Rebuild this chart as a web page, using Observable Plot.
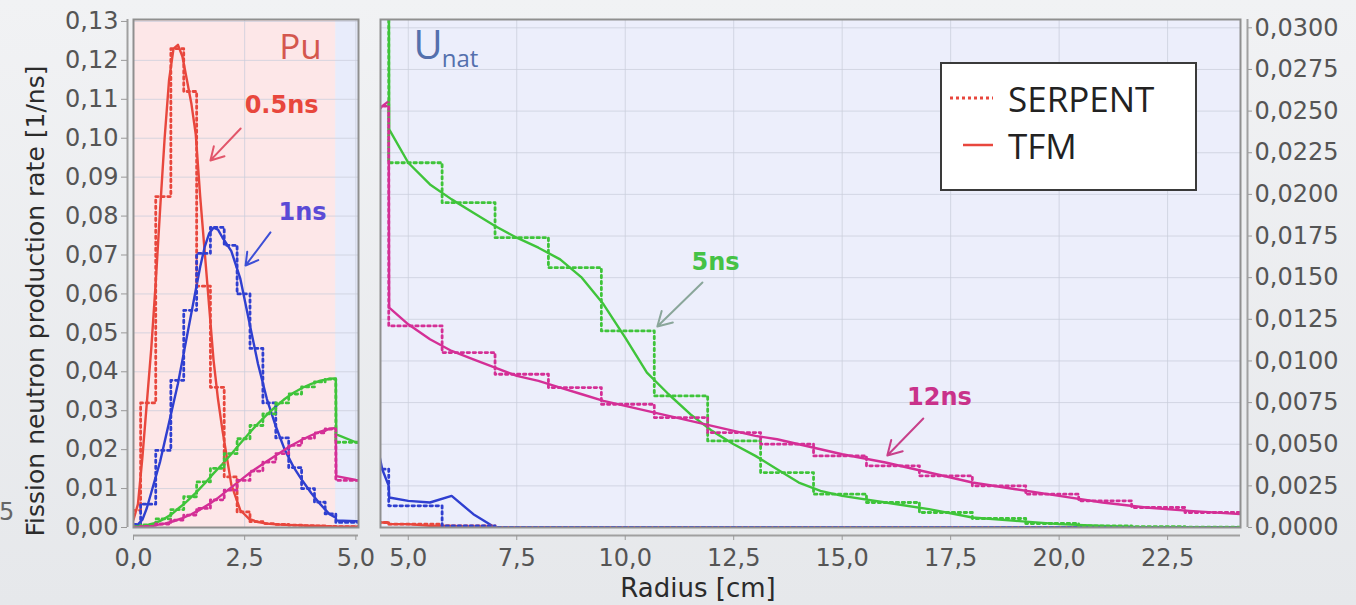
<!DOCTYPE html>
<html><head><meta charset="utf-8">
<script src="https://cdn.jsdelivr.net/npm/d3@7"></script>
<script src="https://cdn.jsdelivr.net/npm/@observablehq/plot@0.6"></script>
<style>
body{margin:0;background:linear-gradient(#f1f2f4,#e6e8eb);}
#chart{position:relative;width:1356px;height:605px;overflow:hidden;}
#left,#right{position:absolute;top:0;}
#left{left:0}
#right{left:370px}
#overlay{position:absolute;left:0;top:0;pointer-events:none}
</style></head>
<body>
<div id="chart"><div id="left"></div><div id="right"></div>
<svg id="overlay" width="1356" height="605"></svg>
</div>
<script>
// ---------- data ----------
const seriesNames = ["0.5ns", "1ns", "5ns", "12ns"];
const seriesColors = ["#e8473d", "#2f3fd0", "#3fc43a", "#d42f96"];

const tfmRadius = [0, 0.1, 0.2, 0.3, 0.4, 0.5, 0.6, 0.7, 0.8, 0.9, 1.0, 1.1, 1.2, 1.3, 1.4, 1.5, 1.6, 1.7, 1.8, 1.9, 2.0,
  2.2, 2.4, 2.6, 2.8, 3.0, 3.2, 3.4, 3.6, 3.8, 4.0, 4.2, 4.4, 4.55, 4.56,
  5.0, 5.5, 6.0, 6.5, 7.0, 7.5, 8.0, 8.5, 9.0, 9.5, 10.0, 10.5, 11.0, 11.5, 12.0, 12.5, 13.0, 13.5, 14.0, 14.5, 15.0,
  16.0, 17.0, 18.0, 19.0, 20.0, 21.0, 22.0, 23.0, 24.2];
const tfm05ns = [0.002, 0.006, 0.018, 0.032, 0.046, 0.063, 0.082, 0.100, 0.115, 0.123, 0.124, 0.121, 0.115, 0.109, 0.101, 0.085, 0.071, 0.057, 0.043, 0.033, 0.025,
  0.011, 0.0045, 0.0022, 0.0014, 0.001, 0.0008, 0.0007, 0.0006, 0.0005, 0.0004, 0.0004, 0.0003, 0.0003, 0.0002,
  0.0002, 0.0001, 0.0001, 0, 0, 0, 0, 0, 0, 0, 0, 0, 0, 0, 0, 0, 0, 0, 0, 0, 0,
  0, 0, 0, 0, 0, 0, 0, 0, 0];
const tfm1ns = [0.0003, 0.0008, 0.002, 0.005, 0.009, 0.013, 0.017, 0.022, 0.027, 0.032, 0.037, 0.043, 0.049, 0.055, 0.061, 0.067, 0.072, 0.0755, 0.077, 0.0765, 0.0745,
  0.071, 0.064, 0.053, 0.042, 0.033, 0.026, 0.020, 0.0155, 0.012, 0.0088, 0.006, 0.0035, 0.0025, 0.0018,
  0.0016, 0.0015, 0.0019, 0.0008, 0, 0, 0, 0, 0, 0, 0, 0, 0, 0, 0, 0, 0, 0, 0, 0, 0,
  0, 0, 0, 0, 0, 0, 0, 0, 0];
const tfm5ns = [0.0002, 0.0003, 0.0004, 0.0006, 0.0009, 0.0012, 0.0017, 0.0023, 0.003, 0.0038, 0.0048, 0.0057, 0.0067, 0.0078, 0.0089, 0.0101, 0.0113, 0.0126, 0.0139, 0.0151, 0.0163,
  0.0189, 0.0216, 0.0242, 0.0267, 0.029, 0.0311, 0.033, 0.0346, 0.0359, 0.0369, 0.0377, 0.0382, 0.0383, 0.0239,
  0.0219, 0.0206, 0.0197, 0.0189, 0.0181, 0.0174, 0.0168, 0.0161, 0.0150, 0.0134, 0.0114, 0.0093, 0.0080, 0.0068, 0.0058, 0.0050, 0.0043, 0.0035, 0.0027, 0.0022, 0.0019,
  0.0015, 0.0011, 0.0006, 0.0004, 0.0002, 0.0001, 0, 0, 0];
const tfm12ns = [0.0001, 0.0001, 0.0002, 0.0003, 0.0004, 0.0006, 0.0008, 0.001, 0.0013, 0.0016, 0.002, 0.0024, 0.0029, 0.0034, 0.004, 0.0046, 0.0053, 0.006, 0.0068, 0.0076, 0.0085,
  0.0103, 0.0121, 0.0139, 0.0155, 0.0170, 0.0185, 0.0200, 0.0214, 0.0226, 0.0237, 0.0246, 0.0253, 0.0256, 0.0132,
  0.0122, 0.0113, 0.0106, 0.0101, 0.0096, 0.0091, 0.0088, 0.0084, 0.0080, 0.0076, 0.0073, 0.0070, 0.0067, 0.0064, 0.0061, 0.0058, 0.0055, 0.0053, 0.0050, 0.0047, 0.0044,
  0.0039, 0.0033, 0.0027, 0.0023, 0.0019, 0.0015, 0.0012, 0.0010, 0.0008];

const serpentEdges = [0, 0.16, 0.5, 0.84, 1.13, 1.42, 1.73, 2.04, 2.33, 2.62, 2.91, 3.2, 3.49, 3.78, 4.07, 4.31, 4.55,
  5.78, 7.0, 8.23, 9.45, 10.67, 11.9, 13.12, 14.34, 15.56, 16.78, 18.0, 19.23, 20.45, 21.67, 22.9, 24.2];
const serpent05ns = [0.0044, 0.032, 0.085, 0.123, 0.112, 0.062, 0.036, 0.013, 0.004, 0.0015, 0.001, 0.0008, 0.0006, 0.0005, 0.0004, 0.0003,
  0.0002, 0.0001, 0, 0, 0, 0, 0, 0, 0, 0, 0, 0, 0, 0, 0, 0];
const serpent1ns = [0.0008, 0.006, 0.0198, 0.0378, 0.0558, 0.0704, 0.0771, 0.0725, 0.060, 0.046, 0.032, 0.023, 0.0154, 0.010, 0.0065, 0.0035,
  0.0013, 0.0001, 0, 0, 0, 0, 0, 0, 0, 0, 0, 0, 0, 0, 0, 0];
const serpent5ns = [0.0003, 0.0007, 0.0022, 0.0046, 0.0079, 0.0117, 0.0152, 0.019, 0.0228, 0.0262, 0.0292, 0.032, 0.0343, 0.0361, 0.0374, 0.0381,
  0.0219, 0.0195, 0.0174, 0.0156, 0.0118, 0.0079, 0.0052, 0.0033, 0.0020, 0.0015, 0.0009, 0.00054, 0.00024, 0.0001, 0.00005, 0.00002];
const serpent12ns = [0.0001, 0.0003, 0.0009, 0.0019, 0.0032, 0.0049, 0.0071, 0.0096, 0.0121, 0.0145, 0.0168, 0.0190, 0.0211, 0.0229, 0.0243, 0.0253,
  0.0121, 0.0105, 0.0092, 0.0084, 0.0074, 0.0066, 0.0057, 0.0050, 0.0043, 0.0037, 0.0031, 0.0025, 0.0020, 0.0016, 0.0012, 0.0009];

const regionNames = ["Pu", "Unat"];
const regionStart = [0, 4.55];
const regionEnd = [4.55, 24.2];

const leftXTicks = [0, 2.5, 5];
const leftYTicks = [0, 0.01, 0.02, 0.03, 0.04, 0.05, 0.06, 0.07, 0.08, 0.09, 0.10, 0.11, 0.12, 0.13];
const rightXTicks = [5, 7.5, 10, 12.5, 15, 17.5, 20, 22.5];
const rightYTicks = [0, 0.0025, 0.005, 0.0075, 0.01, 0.0125, 0.015, 0.0175, 0.02, 0.0225, 0.025, 0.0275, 0.03];

const noteLabels = ["0.5ns", "1ns", "5ns", "12ns"];
const notePanel = ["left", "left", "right", "right"];
const noteX = [3.33, 3.80, 12.08, 17.24];
const noteY = [0.1084, 0.0809, 0.0159, 0.0078];
const arrowFromX = [2.41, 3.08, 11.78, 16.87];
const arrowFromY = [0.1025, 0.0758, 0.01471, 0.00654];
const arrowToX = [1.73, 2.52, 10.74, 16.04];
const arrowToY = [0.0943, 0.0673, 0.01207, 0.00432];
const noteColors = ["#e8473d", "#5b4bd6", "#45c245", "#c9328a"];
const arrowColors = ["#e2566a", "#3d4fd6", "#8aa69a", "#c8408a"];

// ---------- tables ----------
const tfmValues = [tfm05ns, tfm1ns, tfm5ns, tfm12ns];
const serpentValues = [serpent05ns, serpent1ns, serpent5ns, serpent12ns];
const tfmRows = seriesNames.flatMap((s, k) => tfmRadius.map((r, i) => ({series: s, r, v: tfmValues[k][i]})));
const serpentRows = seriesNames.flatMap((s, k) => serpentEdges.map((r, i) => ({series: s, r, v: serpentValues[k][Math.min(i, serpentValues[k].length - 1)]})));
const regions = regionNames.map((n, i) => ({n, r0: regionStart[i], r1: regionEnd[i]}));
const notes = noteLabels.map((label, i) => ({label, panel: notePanel[i], x: noteX[i], y: noteY[i],
  x1: arrowFromX[i], y1: arrowFromY[i], x2: arrowToX[i], y2: arrowToY[i], color: noteColors[i], acolor: arrowColors[i]}));

const comma = spec => d => d3.format(spec)(d).replace(".", ",");
const style = {fontFamily: "DejaVu Sans", fontSize: "24px", color: "#555", background: "transparent", overflow: "visible"};
const gridStyle = {stroke: "#c9cddb", strokeOpacity: 0.75, strokeWidth: 1};

function dataMarks() {
  return [
    Plot.line(tfmRows, {x: "r", y: "v", z: "series", stroke: "series", strokeWidth: 2.4, clip: true}),
    Plot.line(serpentRows, {x: "r", y: "v", z: "series", stroke: "series", curve: "step-after", strokeWidth: 2.8, strokeDasharray: "2.5 3.5", clip: true})
  ];
}
function noteMarks(panel) {
  return notes.filter(d => d.panel === panel).flatMap(d => [
    Plot.arrow([d], {x1: "x1", y1: "y1", x2: "x2", y2: "y2", stroke: d.acolor, strokeWidth: 2, headLength: 12}),
    Plot.text([d], {x: "x", y: "y", text: "label", fill: d.color, fontWeight: "bold", fontSize: 24, fontFamily: "DejaVu Sans"})
  ]);
}

// ---------- left panel (Pu) ----------
const leftYMax = 0.1305;
const left = Plot.plot({
  width: 380, height: 605, marginLeft: 133, marginRight: 22, marginTop: 19, marginBottom: 78,
  style,
  x: {domain: [0, 5.06]},
  y: {domain: [0, leftYMax]},
  color: {domain: seriesNames, range: seriesColors},
  marks: [
    Plot.rect(regions.filter(d => d.n === "Pu"), {x1: "r0", x2: "r1", y1: 0, y2: leftYMax, fill: "#fde7e8", clip: true}),
    Plot.rect(regions.filter(d => d.n === "Unat"), {x1: "r0", x2: "r1", y1: 0, y2: leftYMax, fill: "#e8ecfb", clip: true}),
    Plot.gridY({ticks: leftYTicks, ...gridStyle}),
    Plot.gridX({ticks: leftXTicks, ...gridStyle}),
    ...dataMarks(),
    Plot.text(["Pu"], {x: 3.755, y: 0.1233, text: d => d, fill: "#d4574e", fontSize: 35, fontFamily: "Open Sans"}),
    ...noteMarks("left"),
    Plot.frame({stroke: "#8f8f8f", strokeWidth: 2}),
    Plot.ruleX([leftXTicks[0]], {dx: -6, stroke: "#a0a0a0", strokeWidth: 2}),
    Plot.ruleY([leftYTicks[0]], {dy: 8, stroke: "#a0a0a0", strokeWidth: 2}),
    Plot.axisY({ticks: leftYTicks, tickFormat: comma(".2f"), anchor: "left", tickSize: 6, tickPadding: 3, dx: -6, label: null, stroke: "#999", fill: "#555"}),
    Plot.axisX({ticks: leftXTicks, tickFormat: comma(".1f"), anchor: "bottom", tickSize: 5, tickPadding: 8, dy: 8, label: null, stroke: "#999", fill: "#555"})
  ]
});
document.getElementById("left").append(left);

// ---------- right panel (U nat) ----------
const rightYMax = 0.0305;
const rightXDomain = [4.36, 24.18];
const right = Plot.plot({
  width: 986, height: 605, marginLeft: 10, marginRight: 116, marginTop: 19, marginBottom: 78,
  style,
  x: {domain: rightXDomain},
  y: {domain: [0, rightYMax]},
  color: {domain: seriesNames, range: seriesColors},
  marks: [
    Plot.rect(regions, {x1: "r0", x2: "r1", y1: 0, y2: rightYMax, fill: "#eceefb", clip: true}),
    Plot.gridY({ticks: rightYTicks, ...gridStyle}),
    Plot.gridX({ticks: rightXTicks, ...gridStyle}),
    ...dataMarks(),
    Plot.text(["U"], {x: 5.12, y: 0.0289, text: d => d, fill: "#5470ad", fontSize: 40, fontFamily: "Open Sans", textAnchor: "start"}),
    Plot.text(["nat"], {x: 5.77, y: 0.0281, text: d => d, fill: "#5470ad", fontSize: 24, fontFamily: "Open Sans", textAnchor: "start"}),
    ...noteMarks("right"),
    Plot.frame({stroke: "#8f8f8f", strokeWidth: 2}),
    Plot.ruleX([rightXDomain[1]], {dx: 7, stroke: "#a0a0a0", strokeWidth: 2}),
    Plot.ruleY([rightYTicks[0]], {dy: 8, stroke: "#a0a0a0", strokeWidth: 2}),
    Plot.axisY({ticks: rightYTicks, tickFormat: comma(".4f"), anchor: "right", tickSize: 4, tickPadding: 3, dx: 7, label: null, stroke: "#999", fill: "#555"}),
    Plot.axisX({ticks: rightXTicks, tickFormat: comma(".1f"), anchor: "bottom", tickSize: 5, tickPadding: 8, dy: 8, label: null, stroke: "#999", fill: "#555"})
  ]
});
document.getElementById("right").append(right);

// ---------- titles, legend ----------
const ov = d3.select("#overlay");
ov.append("text").attr("transform", "translate(44,301) rotate(-90)").attr("text-anchor", "middle")
  .attr("font-family", "DejaVu Sans").attr("font-size", 25).attr("fill", "#2b2b2b")
  .text("Fission neutron production rate [1/ns]");
ov.append("text").attr("x", 698).attr("y", 597).attr("text-anchor", "middle")
  .attr("font-family", "DejaVu Sans").attr("font-size", 26).attr("fill", "#2b2b2b")
  .text("Radius [cm]");
ov.append("text").attr("x", -1).attr("y", 520)
  .attr("font-family", "DejaVu Sans").attr("font-size", 24).attr("fill", "#666").text("5");

const legendItems = ["SERPENT", "TFM"];
const lg = ov.append("g").attr("transform", "translate(940,62)");
lg.append("rect").attr("x", 1).attr("y", 1).attr("width", 255).attr("height", 127)
  .attr("fill", "#fff").attr("stroke", "#3a3a3a").attr("stroke-width", 2);
legendItems.forEach((name, i) => {
  const yy = 36 + i * 47;
  lg.append("line").attr("x1", i === 0 ? 10 : 23).attr("x2", 53).attr("y1", yy).attr("y2", yy)
    .attr("stroke", seriesColors[0]).attr("stroke-width", i === 0 ? 3 : 2.5)
    .attr("stroke-dasharray", i === 0 ? "3 3" : null);
  lg.append("text").attr("x", 68).attr("y", yy + 14)
    .attr("font-family", "Open Sans").attr("font-size", 35).attr("fill", "#222").text(name);
});
</script>
</body></html>
